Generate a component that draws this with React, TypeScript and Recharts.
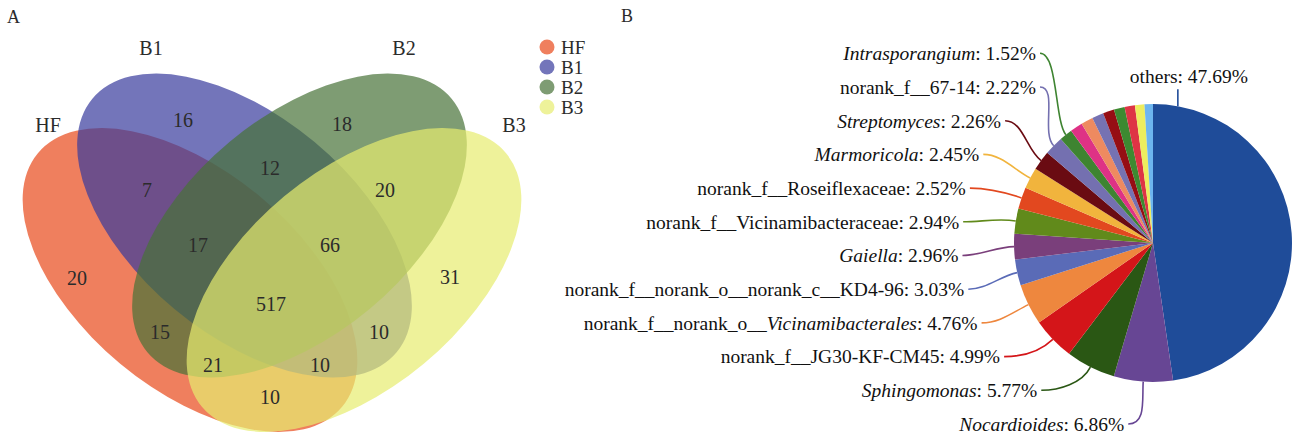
import React from "react";
import { ScatterChart, Scatter, XAxis, YAxis, PieChart, Pie, Cell } from "recharts";

// ---- panel A: 4-set Venn ----
const vennSets = ["HF", "B1", "B2", "B3"];
const vennColors = ["#E84819", "#373B9C", "#477238", "#E7EC6F"];
const vennRegions = [
  "HF", "B1", "B2", "B3",
  "HF&B1", "B1&B2", "B2&B3", "HF&B2", "B1&B3", "HF&B3",
  "HF&B1&B2", "B1&B2&B3", "HF&B2&B3", "HF&B1&B3", "HF&B1&B2&B3",
];
const vennCounts = [20, 16, 18, 31, 7, 12, 20, 15, 10, 10, 17, 66, 21, 10, 517];

// ---- panel B: genus composition ----
const pieNames = [
  "others", "Nocardioides", "Sphingomonas", "norank_f__JG30-KF-CM45",
  "norank_f__norank_o__Vicinamibacterales", "norank_f__norank_o__norank_c__KD4-96",
  "Gaiella", "norank_f__Vicinamibacteraceae", "norank_f__Roseiflexaceae",
  "Marmoricola", "Streptomyces", "norank_f__67-14", "Intrasporangium",
  "", "", "", "", "", "", "", "",
];
const pieItalic = [
  "", "Nocardioides", "Sphingomonas", "", "Vicinamibacterales", "", "Gaiella", "", "",
  "Marmoricola", "Streptomyces", "", "Intrasporangium", "", "", "", "", "", "", "", "",
];
const pieValues = [
  47.69, 6.86, 5.77, 4.99, 4.76, 3.03, 2.96, 2.94, 2.52, 2.45, 2.26, 2.22, 1.52,
  1.45, 1.4, 1.35, 1.3, 1.25, 1.2, 1.1, 0.98,
];
const pieColors = [
  "#1F4C99", "#674694", "#2A5714", "#D41519", "#EE873E", "#5A6BB7", "#7A3F7B",
  "#618A1B", "#E2481F", "#F1B43D", "#6A0B12", "#7470B0", "#3E8431",
  "#DE3285", "#EE8A60", "#7672B2", "#960E14", "#3D8A31", "#DE3445", "#EDED5E", "#6DB5EF",
];

// geometry of the Venn panel (pixels of a 560 x 436 plot area)
const ellipseLayout = [
  { x: 190, y: 280, rx: 198, ry: 109, rot: 39.8 },
  { x: 244.5, y: 225.5, rx: 198, ry: 109, rot: 39.8 },
  { x: 299.5, y: 225.5, rx: 198, ry: 109, rot: -39.8 },
  { x: 354, y: 280, rx: 198, ry: 109, rot: -39.8 },
];
const regionLayout = [
  [77, 278], [183, 120], [342, 124], [450, 277],
  [147, 190], [270, 168], [385, 190], [160, 332], [379, 332], [270, 397],
  [198, 245], [330, 245], [213, 365], [320, 365], [271, 304],
];
const setLabelLayout = [[48, 125], [151, 48], [404, 48], [514, 125]];

const FONT = "'Liberation Serif', 'Times New Roman', serif";
const RAD = Math.PI / 180;
const polar = (cx: number, cy: number, r: number, a: number) => ({
  x: cx + r * Math.cos(-a * RAD),
  y: cy + r * Math.sin(-a * RAD),
});

const ellipseData = vennSets.map((s, i) => ({ ...ellipseLayout[i], name: s, fill: vennColors[i] }));
const regionData = vennRegions.map((r, i) => ({ x: regionLayout[i][0], y: regionLayout[i][1], name: r, count: vennCounts[i] }));
const setLabelData = vennSets.map((s, i) => ({ x: setLabelLayout[i][0], y: setLabelLayout[i][1], name: s }));
const legendData = vennSets.map((s, i) => ({ x: 547, y: 47 + i * 20, name: s, fill: vennColors[i] }));

const EllipseShape = (p: any) => (
  <ellipse
    cx={p.cx}
    cy={p.cy}
    rx={p.payload.rx}
    ry={p.payload.ry}
    transform={`rotate(${p.payload.rot} ${p.cx} ${p.cy})`}
    fill={p.payload.fill}
    fillOpacity={0.7}
  />
);

const CountShape = (p: any) => (
  <text x={p.cx} y={p.cy} dy="0.35em" textAnchor="middle" fontSize={20} fill="#2b2b2b" fontFamily={FONT}>
    {p.payload.count}
  </text>
);

const SetLabelShape = (p: any) => (
  <text x={p.cx} y={p.cy} dy="0.35em" textAnchor="middle" fontSize={20} fill="#2b2b2b" fontFamily={FONT}>
    {p.payload.name}
  </text>
);

const LegendShape = (p: any) => (
  <g>
    <circle cx={p.cx} cy={p.cy} r={7.5} fill={p.payload.fill} fillOpacity={0.7} />
    <text x={p.cx + 14} y={p.cy} dy="0.35em" fontSize={19} fill="#2b2b2b" fontFamily={FONT}>
      {p.payload.name}
    </text>
  </g>
);

function labelText(i: number) {
  const name = pieNames[i];
  const it = pieItalic[i];
  const pct = `: ${pieValues[i].toFixed(2)}%`;
  if (!it) return <tspan>{name + pct}</tspan>;
  const k = name.indexOf(it);
  return (
    <>
      {k > 0 && <tspan>{name.slice(0, k)}</tspan>}
      <tspan fontStyle="italic">{it}</tspan>
      <tspan>{name.slice(k + it.length) + pct}</tspan>
    </>
  );
}

// labels of the named slices sit in a column left of the pie, leader lines curve into the slices
const renderPieLabel = (props: any) => {
  const { cx, cy, outerRadius, midAngle, startAngle, endAngle, index } = props;
  if (!pieNames[index]) return null;
  const color = pieColors[index];
  if (index === 0) {
    const p = polar(cx, cy, outerRadius, startAngle + (endAngle - startAngle) * 0.06);
    return (
      <g key={`lbl-${index}`}>
        <path d={`M${p.x},${p.y} L${p.x},${p.y - 17}`} stroke={color} strokeWidth={1.6} fill="none" />
        <text x={p.x + 11} y={p.y - 23} textAnchor="middle" fontSize={19.5} fill="#111" fontFamily={FONT}>
          {labelText(index)}
        </text>
      </g>
    );
  }
  const gap = 33.7;
  const ty = cy + outerRadius + 42 - (index - 1) * gap;
  const dy = ty - cy;
  const A = outerRadius + 56;
  let dx: number;
  if (dy >= 0) {
    const B = outerRadius + 44;
    dx = A * Math.sqrt(Math.max(0, 1 - (dy / B) ** 2));
  } else {
    dx = Math.max(Math.sqrt(Math.max(0, A * A - dy * dy)), 117);
  }
  const xEnd = cx - dx;
  const p3 = polar(cx, cy, outerRadius, midAngle);
  const p2 = polar(cx, cy, outerRadius + 18, midAngle);
  const x0 = xEnd + 4;
  return (
    <g key={`lbl-${index}`}>
      <path
        d={`M${x0},${ty} C${x0 + 18},${ty} ${p2.x},${p2.y} ${p3.x},${p3.y}`}
        stroke={color}
        strokeWidth={1.6}
        fill="none"
      />
      <text x={xEnd} y={ty} dy="0.35em" textAnchor="end" fontSize={19.5} fill="#111" fontFamily={FONT}>
        {labelText(index)}
      </text>
    </g>
  );
};

const pieData = pieValues.map((v, i) => ({ name: pieNames[i] || `minor ${i}`, value: v }));

export default function App() {
  return (
    <div style={{ position: "absolute", left: 0, top: 0, width: 1295, height: 436, background: "#fff", fontFamily: FONT }}>
      <div style={{ position: "absolute", left: 7, top: 8, fontSize: 18, lineHeight: 1, color: "#2b2b2b" }}>A</div>
      <div style={{ position: "absolute", left: 621, top: 7, fontSize: 18, lineHeight: 1, color: "#2b2b2b" }}>B</div>
      <div style={{ position: "absolute", left: 0, top: 0 }}>
        <ScatterChart width={600} height={436} margin={{ top: 0, right: 0, bottom: 0, left: 0 }}>
          <XAxis type="number" dataKey="x" domain={[0, 600]} hide allowDataOverflow />
          <YAxis type="number" dataKey="y" domain={[0, 436]} reversed hide allowDataOverflow />
          <Scatter data={ellipseData} shape={EllipseShape} isAnimationActive={false} />
          <Scatter data={regionData} shape={CountShape} isAnimationActive={false} />
          <Scatter data={setLabelData} shape={SetLabelShape} isAnimationActive={false} />
          <Scatter data={legendData} shape={LegendShape} isAnimationActive={false} />
        </ScatterChart>
      </div>
      <div style={{ position: "absolute", left: 560, top: 0 }}>
        <PieChart width={735} height={436} margin={{ top: 0, right: 0, bottom: 0, left: 0 }}>
          <Pie
            data={pieData}
            dataKey="value"
            nameKey="name"
            cx={593}
            cy={243}
            outerRadius={139}
            startAngle={90}
            endAngle={-270}
            stroke="none"
            label={renderPieLabel}
            labelLine={false}
            isAnimationActive={false}
          >
            {pieData.map((d, i) => (
              <Cell key={d.name} fill={pieColors[i]} />
            ))}
          </Pie>
        </PieChart>
      </div>
    </div>
  );
}
